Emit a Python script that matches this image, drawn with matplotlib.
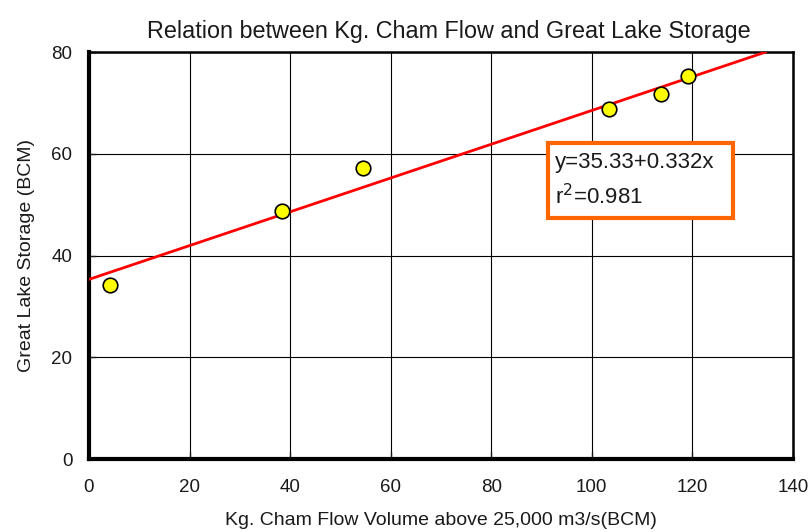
import matplotlib
matplotlib.use("Agg")
import matplotlib.pyplot as plt
from matplotlib.patches import Rectangle
import numpy as np

plt.rcParams['font.family'] = ['Liberation Sans', 'DejaVu Sans']

flow = [4.2, 38.4, 54.5, 103.4, 113.7, 119.1]
storage = [34.2, 48.7, 57.2, 68.8, 71.7, 75.3]
intercept = 35.33
slope = 0.332
xticks = [0, 20, 40, 60, 80, 100, 120, 140]
yticks = [0, 20, 40, 60, 80]

fig = plt.figure(figsize=(8.09, 5.32), dpi=100)
ax = fig.add_axes([0.110, 0.137, 0.870, 0.765])

ax.set_xlim(0, 140)
ax.set_ylim(0, 80)
ax.set_xticks(xticks)
ax.set_yticks(yticks)
ax.grid(True, color='black', linewidth=0.8)
ax.set_axisbelow(True)

x_end = (80 - intercept) / slope
xl = np.array([0, x_end])
ax.plot(xl, intercept + slope * xl, color='#ff0000', linewidth=2, zorder=3)
ax.scatter(flow, storage, s=110, color='#ffff00', edgecolor='black', linewidth=1.2, zorder=4)

for side in ['left', 'bottom']:
    ax.spines[side].set_linewidth(3)
for side in ['top', 'right']:
    ax.spines[side].set_linewidth(1.8)

ax.tick_params(direction='in', length=5, width=1, labelsize=13.5, colors='#1a1a1a')
ax.tick_params(axis='x', pad=14)
ax.tick_params(axis='y', pad=12)

ax.set_title('Relation between Kg. Cham Flow and Great Lake Storage', fontsize=16.8, pad=10,
             color='#1a1a1a', x=0.511)
ax.set_xlabel('Kg. Cham Flow Volume above 25,000 m3/s(BCM)', fontsize=14, labelpad=12, color='#1a1a1a')
ax.set_ylabel('Great Lake Storage (BCM)', fontsize=14, labelpad=12, color='#1a1a1a')

# equation text box
ax.add_patch(Rectangle((91.3, 47.4), 36.8, 14.7, facecolor='white', edgecolor='#ff6600',
                       linewidth=3, zorder=5))
ax.text(92.6, 58.4, 'y=35.33+0.332x', fontsize=16, va='center', ha='left', zorder=6, color='#1a1a1a')
ax.text(92.6, 51.6, 'r$^2$=0.981', fontsize=16, va='center', ha='left', zorder=6, color='#1a1a1a')

fig.savefig('out.png', dpi=100)
